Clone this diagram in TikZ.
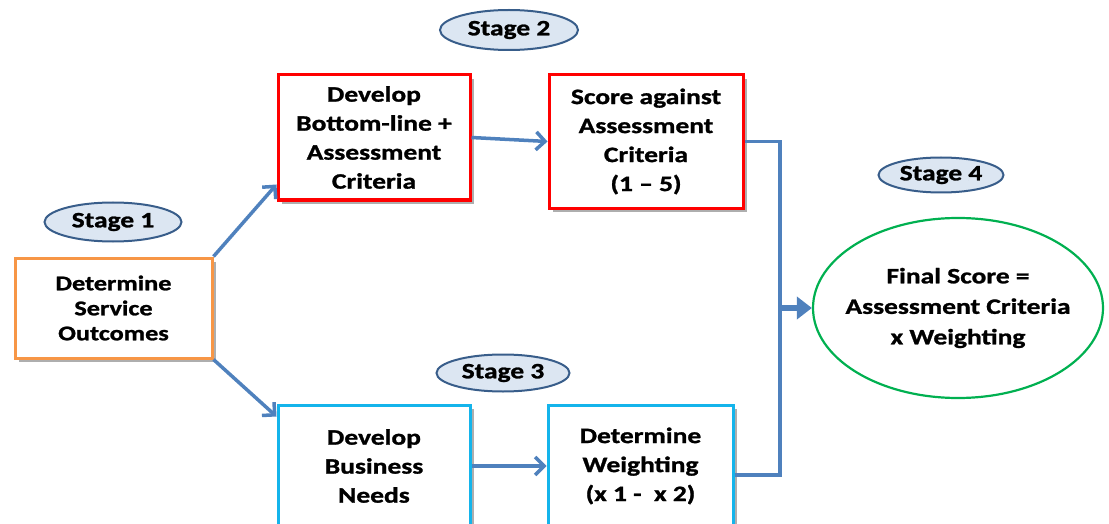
\documentclass[tikz,border=0pt]{standalone}
\usepackage{fontspec}
\setmainfont{Carlito}[FakeStretch=1.25, BoldFeatures={FakeBold=1.2}]
\usetikzlibrary{shapes.geometric,arrows.meta,shadows}
\definecolor{arrblue}{RGB}{79,129,189}
\definecolor{stageedge}{RGB}{56,93,138}
\definecolor{stagefill}{RGB}{220,230,242}
\definecolor{orangeb}{RGB}{247,150,70}
\definecolor{cyanb}{RGB}{20,180,235}
\definecolor{greenb}{RGB}{0,176,80}
\tikzset{
  box/.style={draw, line width=3pt, fill=white, inner sep=0pt, align=center,
    font=\fontsize{22}{29}\selectfont\bfseries,
    drop shadow={shadow xshift=4pt, shadow yshift=-4pt, fill=black!45, opacity=0.7}},
  stagebox/.style={ellipse, draw=stageedge, fill=stagefill, line width=2pt, inner sep=0pt,
    font=\fontsize{22}{26}\selectfont\bfseries},
  conn/.style={draw=arrblue, line width=3.5pt},
  arr/.style={conn, -{Straight Barb[length=9pt,width=18pt,line width=3.5pt]}},
  bigarr/.style={draw=arrblue, line width=5.5pt, -{Triangle[length=15pt,width=22pt]}},
}
\begin{document}
\begin{tikzpicture}[x=1pt,y=-1pt]
\useasboundingbox (0,0) rectangle (1109,524);
\clip (0,0) rectangle (1109,524);
\node[box, draw=orangeb, minimum width=197pt, minimum height=100pt, font=\fontsize{21}{25}\selectfont\bfseries]
  (b1) at (113.5,308) {Determine\\Service\\Outcomes};
\node[box, draw=red, minimum width=192pt, minimum height=125pt] (b2) at (374,137.5)
  {Develop\\Bottom-line +\\Assessment\\Criteria};
\node[box, draw=red, minimum width=194pt, minimum height=133pt] (b3) at (646,141.5)
  {Score against\\Assessment\\Criteria\\(1 -- 5)};
\node[box, draw=cyanb, minimum width=192pt, minimum height=122pt] (b4) at (374,466)
  {Develop\\Business\\Needs};
\node[box, draw=cyanb, minimum width=185pt, minimum height=122pt] (b5) at (640.5,466)
  {Determine\\Weighting\\(x 1 -\ \ x 2)};
\node[ellipse, draw=greenb, line width=2.2pt, fill=white, minimum width=290pt, minimum height=180pt,
  inner xsep=-14pt, inner ysep=0pt, align=center, font=\fontsize{22}{30.5}\selectfont\bfseries]
  (fin) at (958,308) {Final Score =\\Assessment Criteria\\x Weighting};
\node[stagebox, minimum width=137pt, minimum height=39pt] (s1) at (113,222) {Stage 1};
\node[stagebox, minimum width=138pt, minimum height=40pt] (s2) at (509,30) {Stage 2};
\node[stagebox, minimum width=133pt, minimum height=37pt] (s3) at (503,373) {Stage 3};
\node[stagebox, minimum width=125pt, minimum height=35pt] (s4) at (941,175) {Stage 4};
\coordinate (j) at (780,308);
\draw[arr] (b1.north east) -- ([yshift=17pt]b2.south west);
\draw[arr] (b1.south east) -- ([yshift=-13pt]b4.north west);
\draw[arr] (b2.east) -- (b3.west);
\draw[arr] (b4.east) -- (b5.west);
\draw[conn] (b3.east) -| (j);
\draw[conn] ([yshift=-9pt]b5.east) -| (j);
\draw[bigarr] (j) -- (fin.west);
\end{tikzpicture}
\end{document}
